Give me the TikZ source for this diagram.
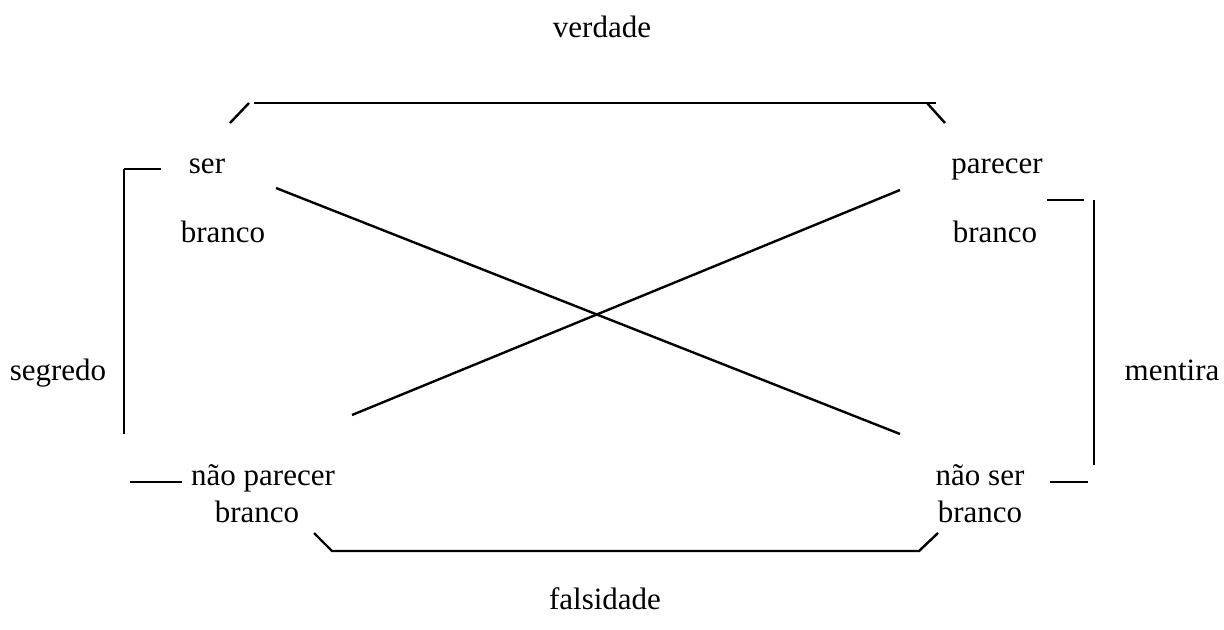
\documentclass[tikz,border=0pt]{standalone}
\usepackage{fontspec}
\setmainfont{Liberation Serif}
\begin{document}
\begin{tikzpicture}[x=0.5pt,y=-0.5pt,
  lbl/.style={anchor=base,inner sep=0pt,font=\fontsize{15.5}{18}\selectfont},
  ln/.style={line width=1.2pt}]
\useasboundingbox (0,0) rectangle (1224,630);
% labels
\node[lbl] (verdade) at (602,38) {verdade};
\node[lbl] (falsidade) at (605,609) {falsidade};
\node[lbl] (segredo) at (58,380) {segredo};
\node[lbl] (mentira) at (1172,380) {mentira};
\node[lbl] (ser) at (207,174) {ser};
\node[lbl] (ser2) at (223,243) {branco};
\node[lbl] (par) at (997,174) {parecer};
\node[lbl] (par2) at (995,243) {branco};
\node[lbl] (npar) at (263,485) {não parecer};
\node[lbl] (npar2) at (257,522) {branco};
\node[lbl] (nser) at (980,485) {não ser};
\node[lbl] (nser2) at (980,522) {branco};
% coordinates
\coordinate (t1) at (230,123);
\coordinate (t2) at (249,103);
\coordinate (t3) at (254,103);
\coordinate (t4) at (936,103);
\coordinate (t5) at (927,103);
\coordinate (t6) at (945,123);
\coordinate (l1) at (161,169);
\coordinate (l2) at (124,169);
\coordinate (l3) at (124,434);
\coordinate (l4) at (130,482);
\coordinate (l5) at (182,482);
\coordinate (r1) at (1047,200);
\coordinate (r2) at (1084,200);
\coordinate (r3) at (1094,200);
\coordinate (r4) at (1094,465);
\coordinate (r5) at (1050,482);
\coordinate (r6) at (1088,482);
\coordinate (b1) at (314,533);
\coordinate (b2) at (332,551);
\coordinate (b3) at (919,551);
\coordinate (b4) at (938,533);
\coordinate (x1) at (276,188);
\coordinate (x2) at (900,434);
\coordinate (x3) at (352,415);
\coordinate (x4) at (900,190);
% lines
\draw[ln] (t1) -- (t2);
\draw[ln] (t3) -- (t4);
\draw[ln] (t5) -- (t6);
\draw[ln] (l1) -- (l2);
\draw[ln] (l2) -- (l3);
\draw[ln] (l4) -- (l5);
\draw[ln] (r1) -- (r2);
\draw[ln] (r3) -- (r4);
\draw[ln] (r5) -- (r6);
\draw[ln] (b1) -- (b2) -- (b3) -- (b4);
\draw[ln] (x1) -- (x2);
\draw[ln] (x3) -- (x4);
\end{tikzpicture}
\end{document}
